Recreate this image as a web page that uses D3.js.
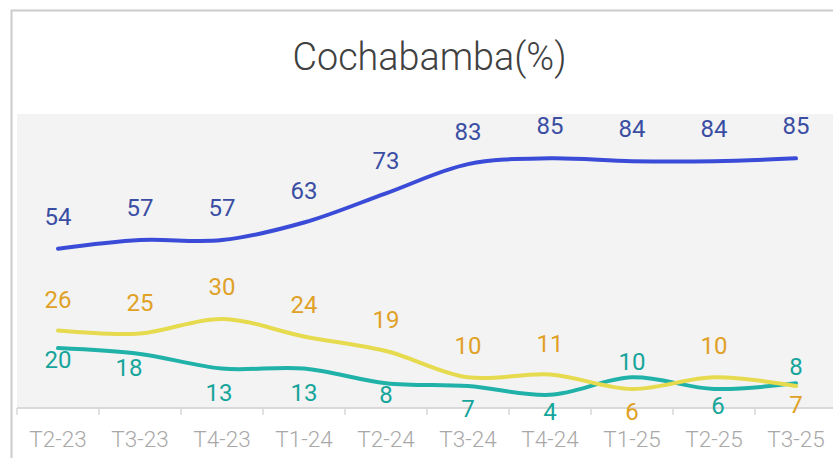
<!DOCTYPE html>
<html>
<head>
<meta charset="utf-8">
<script src="https://cdn.jsdelivr.net/npm/d3@7"></script>
<style>
  html, body { margin: 0; padding: 0; background: #ffffff; }
  svg { display: block; }
  text { font-family: Roboto, "Noto Sans", sans-serif; }
</style>
</head>
<body>
<svg id="chart" width="833" height="458"></svg>
<script>
// ---- data ----
const title = "Cochabamba(%)";
const categories = ["T2-23","T3-23","T4-23","T1-24","T2-24","T3-24","T4-24","T1-25","T2-25","T3-25"];
const seriesBlue   = [54, 57, 57, 63, 73, 83, 85, 84, 84, 85];
const seriesYellow = [26, 25, 30, 24, 19, 10, 11, 6, 10, 7];
const seriesTeal   = [20, 18, 13, 13, 8, 7, 4, 10, 6, 8];
const yDomain = [0, 100];

// ---- layout / style (label offsets relative to point) ----
const W = 833, H = 458;
const styles = [
  { values: seriesBlue,   line: "#3a4bd8", label: "#3a4ea3",
    dy: [-24,-24,-24,-24,-24,-24,-24,-24,-24,-24], dx: [0,0,0,0,0,0,0,0,0,0] },
  { values: seriesYellow, line: "#e6da4f", label: "#e0a126",
    dy: [-23,-23,-24,-23,-23,-23,-22,31,-23,27], dx: [0,0,0,0,0,0,0,0,0,0] },
  { values: seriesTeal,   line: "#20b2a9", label: "#16a59b",
    dy: [20,22,32,32,20,31,25,-7,25,-8], dx: [0,-11,-3,0,0,0,0,0,4,0] }
];

const svg = d3.select("#chart");

// outer frame
svg.append("rect")
  .attr("x", 11.5).attr("y", 10.5)
  .attr("width", 860).attr("height", 470)
  .attr("fill", "#ffffff")
  .attr("stroke", "#cccccc").attr("stroke-width", 2);

const x = d3.scaleBand().domain(categories).range([17, 837]).padding(0);
const y = d3.scaleLinear().domain(yDomain).range([406.5, 114.5]);

// plot background
svg.append("rect")
  .attr("x", 17).attr("y", 114)
  .attr("width", 830).attr("height", 294)
  .attr("fill", "#f3f3f3");

// title
const t = svg.append("text")
  .attr("x", 429.5).attr("y", 69.5)
  .attr("text-anchor", "middle")
  .attr("font-size", 39)
  .attr("font-weight", 300)
  .attr("fill", "#404040")
  .text(title);
{
  const nat = t.node().getComputedTextLength();
  if (nat > 274) t.attr("textLength", 274).attr("lengthAdjust", "spacingAndGlyphs");
}

// axis line + boundary ticks
const axisY = 408;
svg.append("line")
  .attr("x1", 17).attr("x2", 837)
  .attr("y1", axisY).attr("y2", axisY)
  .attr("stroke", "#d9d9d9").attr("stroke-width", 2);
const bounds = categories.map(c => x(c)).concat([x(categories[categories.length - 1]) + x.bandwidth()]);
svg.append("g").selectAll("line").data(bounds).join("line")
  .attr("x1", d => d).attr("x2", d => d)
  .attr("y1", axisY).attr("y2", axisY + 7)
  .attr("stroke", "#d9d9d9").attr("stroke-width", 1.5);

// tick labels via d3 axis
const axis = d3.axisBottom(x).tickSize(0).tickPadding(0);
const gAxis = svg.append("g").attr("transform", `translate(0,${axisY})`).call(axis);
gAxis.select(".domain").remove();
gAxis.selectAll("text")
  .attr("dy", null)
  .attr("y", 39)
  .attr("font-size", 22.5)
  .attr("font-family", "Roboto, sans-serif")
  .attr("font-weight", 300)
  .attr("fill", "#a8a8a8")
  .each(function() {
    const nat = this.getComputedTextLength();
    if (nat > 58) d3.select(this).attr("textLength", 58).attr("lengthAdjust", "spacingAndGlyphs");
  });

// lines
const line = d3.line()
  .x((d, i) => x(categories[i]) + x.bandwidth() / 2)
  .y(d => y(d))
  .curve(d3.curveCatmullRom.alpha(0.5));

[styles[0], styles[2], styles[1]].forEach(s => {
  svg.append("path")
    .datum(s.values)
    .attr("d", line)
    .attr("fill", "none")
    .attr("stroke", s.line)
    .attr("stroke-width", 4)
    .attr("stroke-linecap", "round");
});

// labels
styles.forEach(s => {
  svg.append("g").selectAll("text").data(s.values).join("text")
    .attr("x", (d, i) => x(categories[i]) + x.bandwidth() / 2 + s.dx[i])
    .attr("y", (d, i) => y(d) + s.dy[i])
    .attr("text-anchor", "middle")
    .attr("font-size", 24)
    .attr("fill", s.label)
    .text(d => d);
});
</script>
</body>
</html>
